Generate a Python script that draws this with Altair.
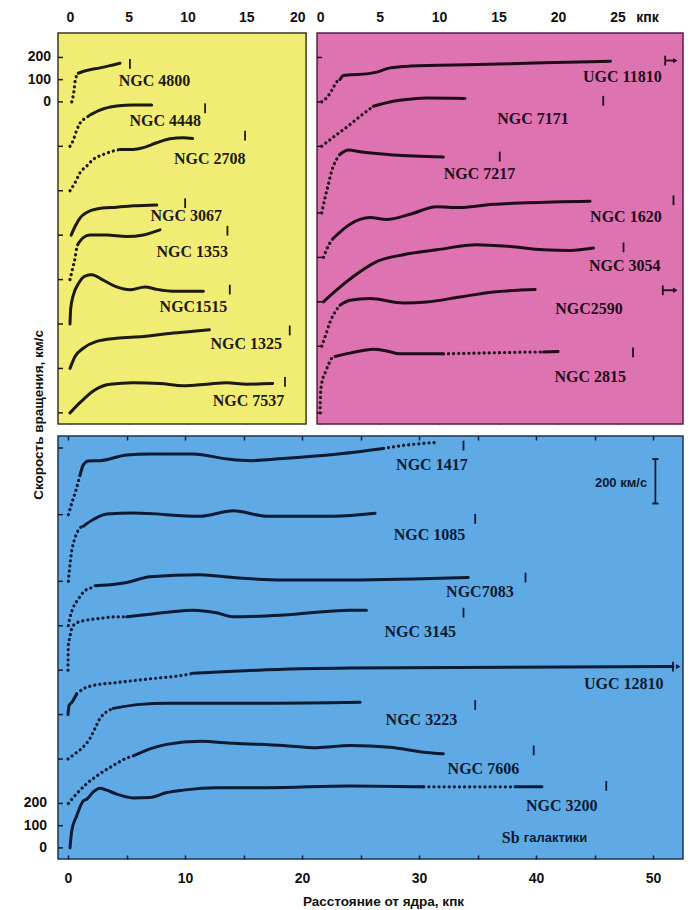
import altair as alt
import pandas as pd

FONT_SANS = "Liberation Sans"
FONT_SERIF = "Liberation Serif"

# ---------------- YELLOW PANEL (radius kpc, velocity km/s; style per interval: d=dotted, s=solid)
Y_NAMES = ["NGC 4800", "NGC 4448", "NGC 2708", "NGC 3067", "NGC 1353", "NGC1515", "NGC 1325", "NGC 7537"]
Y_OFFSETS = [1400, 1200, 1000, 800, 600, 400, 200, 0]

N4800_R = [0.15, 0.34, 0.43, 0.57, 0.70, 1.40, 2.55, 3.40, 4.26]
N4800_V = [0, 50, 90, 118, 129, 141, 153, 163, 174]
N4800_S = "ddddssss"
N4448_R = [0.00, 0.28, 0.57, 0.85, 1.42, 1.70, 2.55, 3.97, 5.40, 6.95]
N4448_V = [0, 28, 73, 104, 130, 141, 163, 181, 186, 186]
N4448_S = "dddddssss"
N2708_R = [0.00, 0.43, 0.85, 1.42, 1.98, 2.83, 3.69, 4.26, 5.39, 6.24, 7.38, 8.50, 9.64, 10.44]
N2708_V = [0, 36, 81, 111, 141, 163, 179, 186, 186, 194, 216, 234, 239, 235]
N2708_S = "dddddddssssss"
N3067_R = [0.10, 0.43, 0.85, 1.42, 2.27, 3.97, 5.39, 7.38]
N3067_V = [0, 39, 77, 102, 118, 126, 132, 136]
N3067_S = "sssssss"
N1353_R = [0.00, 0.23, 0.43, 0.57, 0.71, 1.13, 1.70, 3.12, 4.83, 6.24, 7.66]
N1353_V = [0, 51, 96, 141, 163, 189, 201, 201, 194, 201, 224]
N1353_S = "ddddssssss"
N1515_R = [0.00, 0.06, 0.28, 0.71, 1.28, 1.85, 2.84, 3.97, 5.10, 6.38, 7.38, 9.08, 11.35]
N1515_V = [0, 69, 129, 181, 216, 222, 197, 167, 154, 167, 156, 147, 147]
N1515_S = "ssssssssssss"
N1325_R = [0.00, 0.43, 1.13, 2.27, 3.97, 6.24, 8.23, 10.50, 11.86]
N1325_V = [0, 54, 91, 122, 136, 144, 156, 167, 174]
N1325_S = "ssssssss"
N7537_R = [0.00, 0.85, 1.98, 3.40, 5.39, 7.66, 9.64, 11.63, 13.34, 15.04, 17.25]
N7537_V = [0, 46, 99, 129, 136, 132, 122, 129, 136, 129, 132]
N7537_S = "ssssssssss"

Y_LAB_R = [7.2, 8.1, 11.9, 9.9, 10.4, 10.5, 15.0, 15.2]
Y_LAB_V = [95, 112, 145, 88, 126, 77, 108, 54]
Y_END_R = [5.1, 11.5, 14.9, 9.8, 13.4, 13.6, 18.7, 18.3]
Y_END_V = [171, 171, 248, 144, 220, 155, 171, 140]
Y_YTICKS = [0, 200, 400, 600, 800, 1000, 1200, 1400, 1500, 1600]
Y_YLABEL_POS = [1400, 1500, 1600]
Y_YLABELS = ["0", "100", "200"]

# ---------------- PINK PANEL
P_NAMES = ["UGC 11810", "NGC 7171", "NGC 7217", "NGC 1620", "NGC 3054", "NGC2590", "NGC 2815"]
P_OFFSETS = [1400, 1200, 900, 700, 500, 300, 0]

U11810_R = [0.14, 0.70, 0.98, 1.40, 1.68, 1.96, 2.52, 3.92, 4.76, 5.88, 7.56, 13.17, 18.76, 24.40]
U11810_V = [0, 28, 51, 90, 101, 119, 122, 126, 134, 153, 161, 168, 176, 183]
U11810_S = "ddddsssssssss"
N7171_R = [0.14, 1.40, 2.52, 3.36, 4.20, 4.48, 6.16, 7.56, 8.97, 12.18]
N7171_V = [0, 53, 98, 135, 169, 180, 203, 212, 217, 215]
N7171_S = "dddddssss"
N7217_R = [0.14, 0.42, 0.70, 0.98, 1.40, 1.68, 2.38, 3.36, 6.16, 10.36]
N7217_V = [0, 69, 129, 189, 242, 264, 283, 275, 261, 252]
N7217_S = "dddddssss"
N1620_R = [0.28, 0.56, 0.84, 1.10, 2.52, 4.20, 5.60, 7.56, 9.80, 11.76, 14.56, 17.37, 22.69]
N1620_V = [0, 36, 66, 85, 149, 179, 171, 194, 228, 224, 239, 246, 253]
N1620_S = "dddsssssssss"
N3054_R = [0.28, 1.40, 2.80, 4.76, 7.00, 9.80, 13.17, 15.97, 18.76, 21.00, 22.97]
N3054_V = [0, 54, 114, 181, 212, 234, 257, 249, 234, 231, 242]
N3054_S = "ssssssssss"
N2590_R = [0.14, 0.56, 0.84, 1.26, 1.68, 2.52, 4.20, 7.00, 8.97, 11.76, 14.56, 18.07]
N2590_V = [0, 64, 109, 154, 185, 207, 215, 195, 199, 222, 244, 255]
N2590_S = "ddddsssssss"
N2815_R = [0.00, 0.03, 0.14, 0.42, 0.70, 0.98, 1.26, 2.52, 4.48, 5.60, 6.72, 9.80, 10.36, 14.00, 18.20, 18.76, 20.00]
N2815_V = [0, 73, 133, 179, 216, 246, 254, 269, 287, 279, 266, 266, 266, 270, 274, 274, 276]
N2815_S = "ddddddssssssddds"

P_LAB_R = [25.4, 17.9, 13.4, 25.7, 25.6, 22.6, 22.7]
P_LAB_V = [112, 121, 175, 180, 159, 166, 163]
P_END_R = [29.0, 23.8, 15.1, 29.7, 25.5, 28.8, 26.3]
P_END_V = [186, 205, 254, 257, 245, 252, 272]
P_ARROW_R = [29.0, 28.8]
P_ARROW_R2 = [29.85, 29.85]
P_ARROW_V = [1400 + 186, 300 + 252]
P_YTICKS = [0, 300, 500, 700, 900, 1200, 1400, 1600]

# ---------------- BLUE PANEL
B_NAMES = ["NGC 1417", "NGC 1085", "NGC7083", "NGC 3145", "UGC 12810", "NGC 3223", "NGC 7606", "NGC 3200"]
B_OFFSETS = [1500, 1200, 1000, 800, 600, 400, 200, 0]

N1417_R = [0.03, 0.32, 0.60, 0.88, 1.03, 1.31, 1.74, 2.74, 5.02, 7.00, 10.70, 13.56, 15.56, 18.40, 22.70, 26.95, 29.23, 31.50]
N1417_V = [0, 51, 96, 149, 179, 224, 242, 243, 269, 273, 273, 251, 243, 253, 271, 298, 315, 325]
N1417_S = "ddddsssssssssssdd"
N1085_R = [0.03, 0.17, 0.32, 0.60, 1.03, 1.31, 2.16, 3.31, 5.58, 11.28, 14.13, 16.98, 22.68, 26.24]
N1085_V = [0, 75, 135, 195, 240, 248, 278, 303, 307, 293, 318, 293, 293, 306]
N1085_S = "ddddds" + "sssssss"
N7083_R = [0.03, 0.17, 0.45, 0.88, 1.45, 2.03, 2.31, 4.16, 5.02, 7.00, 11.28, 14.13, 18.40, 24.10, 34.20]
N7083_V = [0, 37, 82, 120, 158, 172, 180, 188, 195, 221, 230, 217, 206, 206, 217]
N7083_S = "ddddddssssssss"
N3145_R = [0.00, 0.01, 0.03, 0.17, 0.32, 0.74, 1.60, 2.74, 4.16, 5.02, 7.00, 8.70, 10.70, 12.70, 14.13, 18.40, 24.10, 25.50]
N3145_V = [0, 68, 113, 150, 188, 213, 225, 233, 240, 240, 252, 262, 270, 258, 240, 248, 270, 270]
N3145_S = "dddddddddssssssss"
U12810_R = [0.00, 0.09, 0.32, 0.74, 1.31, 2.16, 4.16, 7.00, 10.15, 10.70, 14.13, 19.83, 24.10, 51.70]
U12810_V = [0, 41, 55, 93, 116, 131, 144, 161, 180, 186, 195, 206, 210, 216]
U12810_S = "sssddddddssss"
N3223_R = [0.00, 0.45, 1.31, 1.88, 2.31, 2.74, 3.31, 3.87, 6.15, 8.44, 17.00, 24.96]
N3223_V = [0, 18, 55, 93, 138, 183, 213, 228, 246, 251, 251, 255]
N3223_S = "dddddddssss"
N7606_R = [0.03, 0.74, 1.60, 2.74, 3.87, 4.87, 5.58, 7.00, 8.44, 11.28, 14.13, 18.40, 21.26, 24.10, 27.52, 30.37, 32.08]
N7606_V = [0, 44, 89, 134, 171, 201, 214, 246, 266, 280, 271, 261, 251, 261, 253, 231, 224]
N7606_S = "ddddddssssssssss"
N3200_R = [0.17, 0.32, 0.74, 1.31, 1.60, 2.16, 2.74, 3.25, 4.16, 5.58, 7.00, 8.44, 9.85, 12.70, 17.00, 24.10, 30.40, 34.00, 38.20, 40.50]
N3200_V = [0, 77, 144, 212, 219, 252, 269, 261, 242, 225, 227, 249, 260, 271, 271, 279, 275, 275, 275, 275]
N3200_S = "ssssssssssssssssdds"

B_LAB_R = [31.1, 30.9, 35.2, 30.1, 47.5, 30.2, 35.5, 42.2]
B_LAB_V = [224, 210, 150, 173, 138, 176, 156, 189]
B_END_R = [33.8, 34.8, 39.1, 33.8, 51.7, 34.8, 39.8, 46.0]
B_END_V = [311, 281, 217, 259, 216, 243, 239, 279]
B_ARROW_R = [52.15]
B_ARROW_V = [600 + 216]
B_YTICKS = [0, 100, 200, 400, 600, 800, 1000, 1200, 1500, 1800]
B_YLABEL_POS = [0, 100, 200]
B_YLABELS = ["0", "100", "200"]
SCALEBAR_R = [50.2]
SCALEBAR_V = [1550, 1750]

Y_CURVES = [(N4800_R, N4800_V, N4800_S), (N4448_R, N4448_V, N4448_S), (N2708_R, N2708_V, N2708_S),
            (N3067_R, N3067_V, N3067_S), (N1353_R, N1353_V, N1353_S), (N1515_R, N1515_V, N1515_S),
            (N1325_R, N1325_V, N1325_S), (N7537_R, N7537_V, N7537_S)]
P_CURVES = [(U11810_R, U11810_V, U11810_S), (N7171_R, N7171_V, N7171_S), (N7217_R, N7217_V, N7217_S),
            (N1620_R, N1620_V, N1620_S), (N3054_R, N3054_V, N3054_S), (N2590_R, N2590_V, N2590_S),
            (N2815_R, N2815_V, N2815_S)]
B_CURVES = [(N1417_R, N1417_V, N1417_S), (N1085_R, N1085_V, N1085_S), (N7083_R, N7083_V, N7083_S),
            (N3145_R, N3145_V, N3145_S), (U12810_R, U12810_V, U12810_S), (N3223_R, N3223_V, N3223_S),
            (N7606_R, N7606_V, N7606_S), (N3200_R, N3200_V, N3200_S)]

# ---------------- scale domains (panel frames)
YX_DOM = [-1.02, 52.17]     # yellow x-scale over the whole top row width
YX_PANEL = [-1.02, 20.09]   # yellow panel extent
PX_DOM = [-22.02, 30.5]     # pink x-scale over the whole top row width
PX_PANEL = [-0.25, 30.5]    # pink panel extent
TOP_Y_DOM = [-50, 1710]
BX_DOM = [-0.855, 52.56]
B_Y_DOM = [-50, 1854]


def curves_df(names, offsets, curves):
    rows = []
    for name, off, (R, V, S) in zip(names, offsets, curves):
        seg = 0
        for i, st in enumerate(S):
            if i == 0 or st != S[i - 1]:
                seg += 1
                rows.append({"seg": f"{name}#{seg}", "style": st, "r": R[i], "Y": V[i] + off})
            rows.append({"seg": f"{name}#{seg}", "style": st, "r": R[i + 1], "Y": V[i + 1] + off})
    return pd.DataFrame(rows)


def ends_df(offsets, er, ev, half=22):
    return pd.DataFrame({"r": er, "Y1": [v + o - half for v, o in zip(ev, offsets)],
                         "Y2": [v + o + half for v, o in zip(ev, offsets)]})


def labels_df(names, offsets, lr, lv):
    return pd.DataFrame({"r": lr, "Y": [v + o for v, o in zip(lv, offsets)], "name": names})


def axis_common(ink):
    return dict(domain=False, grid=False, tickColor=ink, tickWidth=1.5, labelFont=FONT_SANS,
                labelFontSize=14, labelFontWeight="bold", labelColor="#111111", labelOverlap=False)


def sc(dom):
    return alt.Scale(domain=dom, nice=False, zero=False)


def curve_layers(cdf, edf, ldf, xs, ys, ink, x_main, x_ticks):
    base = alt.Chart(cdf)
    solid = base.transform_filter("datum.style == 's'").mark_line(
        color=ink, strokeWidth=3, interpolate="monotone", strokeCap="round", strokeJoin="round"
    ).encode(x=alt.X("r:Q", scale=xs, axis=x_main), y=alt.Y("Y:Q", scale=ys, axis=None), detail="seg:N")
    dotted = base.transform_filter("datum.style == 'd'").mark_line(
        color=ink, strokeWidth=3.2, strokeDash=[0.1, 5], strokeCap="round", interpolate="monotone"
    ).encode(x=alt.X("r:Q", scale=xs, axis=None), y=alt.Y("Y:Q", scale=ys, axis=None), detail="seg:N")
    ends = alt.Chart(edf).mark_rule(color=ink, strokeWidth=1.8).encode(
        x=alt.X("r:Q", scale=xs, axis=x_ticks), y=alt.Y("Y1:Q", scale=ys, axis=None), y2="Y2:Q")
    labels = alt.Chart(ldf).mark_text(
        font=FONT_SERIF, fontSize=16, fontWeight="bold", color=ink, align="center", baseline="middle"
    ).encode(x=alt.X("r:Q", scale=xs, axis=None), y=alt.Y("Y:Q", scale=ys, axis=None), text="name:N")
    return [solid, dotted, ends, labels]


def frame_rect(xpanel, ydom, xs, ys, fill, border):
    df = pd.DataFrame({"r0": [xpanel[0]], "r1": [xpanel[1]], "Y0": [ydom[0]], "Y1": [ydom[1]]})
    return alt.Chart(df).mark_rect(fill=fill, stroke=border, strokeWidth=1.5).encode(
        x=alt.X("r0:Q", scale=xs, axis=None), x2="r1:Q", y=alt.Y("Y0:Q", scale=ys, axis=None), y2="Y1:Q")


def y_ticks(left, kpc_len, values, xs, ys, ink):
    df = pd.DataFrame({"r0": [left] * len(values), "r1": [left + kpc_len] * len(values), "Y": values})
    return alt.Chart(df).mark_rule(color=ink, strokeWidth=1.5).encode(
        x=alt.X("r0:Q", scale=xs, axis=None), x2="r1:Q", y=alt.Y("Y:Q", scale=ys, axis=None))


def y_labels(left, pos, texts, dx, xs, ys):
    df = pd.DataFrame({"r0": [left] * len(pos), "Y": pos, "t": texts})
    return alt.Chart(df).mark_text(font=FONT_SANS, fontSize=14, fontWeight="bold", color="#111111",
                                   align="right", baseline="middle", dx=dx).encode(
        x=alt.X("r0:Q", scale=xs, axis=None), y=alt.Y("Y:Q", scale=ys, axis=None), text="t:N")


# ================= TOP ROW (yellow + pink in one layered chart, independent x scales)
YINK = "#1c1a12"
PINK_INK = "#1e0d18"
xs_y = sc(YX_DOM)
xs_p = sc(PX_DOM)
ys_t = sc(TOP_Y_DOM)

y_main = alt.Axis(orient="top", values=[0, 5, 10, 15, 20], offset=-4, tickSize=4, labelPadding=9,
                  labelAlign={"condition": {"test": "datum.value == 20", "value": "right"}, "value": "center"},
                  title=None, **axis_common(YINK))
y_tick = alt.Axis(orient="bottom", values=[0, 5, 10, 15], offset=-4, tickSize=4, labels=False,
                  title=None, **axis_common(YINK))
p_main = alt.Axis(orient="top", values=[0, 5, 10, 15, 20, 25, 30], offset=-4, tickSize=4, labelPadding=9,
                  labelExpr="datum.value == 30 ? '' : datum.label",
                  title="кпк", titleX=589, titleY=-13, titleAngle=0, titleAlign="center", titleBaseline="bottom",
                  titleFont=FONT_SANS, titleFontSize=14, titleFontWeight="bold", titleColor="#111111",
                  **axis_common(PINK_INK))
p_tick = alt.Axis(orient="bottom", values=[0, 5, 10, 15, 20, 25], offset=-4, tickSize=4, labels=False,
                  title=None, **axis_common(PINK_INK))

p_arrows = pd.DataFrame({"r": P_ARROW_R, "r2": P_ARROW_R2, "Y": P_ARROW_V})
p_arrow_line = alt.Chart(p_arrows).mark_rule(color=PINK_INK, strokeWidth=1.8).encode(
    x=alt.X("r:Q", scale=xs_p, axis=None), x2="r2:Q", y=alt.Y("Y:Q", scale=ys_t, axis=None))
p_arrow_head = alt.Chart(p_arrows).mark_point(shape="triangle-right", filled=True, size=28, opacity=1,
                                              color=PINK_INK).encode(
    x=alt.X("r2:Q", scale=xs_p, axis=None), y=alt.Y("Y:Q", scale=ys_t, axis=None))

vtitle = alt.Chart(pd.DataFrame({"Y": [-9], "t": ["Скорость вращения, км/с"]})).mark_text(
    font=FONT_SANS, fontSize=13.5, fontWeight="bold", color="#111111", angle=270,
    align="center", baseline="middle").encode(
    x=alt.value(-19), y=alt.Y("Y:Q", scale=ys_t, axis=None), text="t:N")

top_layers = (
    [frame_rect(YX_PANEL, TOP_Y_DOM, xs_y, ys_t, "#f1ed74", "#3a3820"),
     frame_rect(PX_PANEL, TOP_Y_DOM, xs_p, ys_t, "#de73b2", "#5a1d45")]
    + curve_layers(curves_df(Y_NAMES, Y_OFFSETS, Y_CURVES), ends_df(Y_OFFSETS, Y_END_R, Y_END_V),
                   labels_df(Y_NAMES, Y_OFFSETS, Y_LAB_R, Y_LAB_V), xs_y, ys_t, YINK, y_main, y_tick)
    + curve_layers(curves_df(P_NAMES, P_OFFSETS, P_CURVES), ends_df(P_OFFSETS, P_END_R, P_END_V),
                   labels_df(P_NAMES, P_OFFSETS, P_LAB_R, P_LAB_V), xs_p, ys_t, PINK_INK, p_main, p_tick)
    + [p_arrow_line, p_arrow_head,
       y_ticks(YX_PANEL[0], 5 / 11.75, Y_YTICKS, xs_y, ys_t, YINK),
       y_ticks(PX_PANEL[0], 5 / 11.9, P_YTICKS, xs_p, ys_t, PINK_INK),
       y_labels(YX_PANEL[0], Y_YLABEL_POS, Y_YLABELS, -7, xs_y, ys_t),
       vtitle]
)
top = alt.layer(*top_layers).resolve_scale(x="independent").properties(
    width=625, height=391, view=alt.ViewBackground(fill="white", stroke="transparent"))

# ================= BLUE PANEL
BINK = "#0d1a33"
xs_b = sc(BX_DOM)
ys_b = sc(B_Y_DOM)
b_main = alt.Axis(orient="bottom", values=list(range(0, 55, 5)), offset=-4, tickSize=4, labelPadding=12,
                  labelExpr="datum.value % 10 == 0 ? datum.label : ''",
                  title="Расстояние от ядра, кпк", titleX=325, titleY=46, titleAlign="center",
                  titleBaseline="middle", titleFont=FONT_SANS, titleFontSize=13.5, titleFontWeight="bold",
                  titleColor="#111111", **axis_common(BINK))
b_tick = alt.Axis(orient="top", values=list(range(0, 55, 5)), offset=-4, tickSize=4, labels=False,
                  title=None, **axis_common(BINK))

b_arrow = alt.Chart(pd.DataFrame({"r": B_ARROW_R, "Y": B_ARROW_V})).mark_point(
    shape="triangle-right", filled=True, size=28, opacity=1, color=BINK).encode(
    x=alt.X("r:Q", scale=xs_b, axis=None), y=alt.Y("Y:Q", scale=ys_b, axis=None))
b_bar = alt.Chart(pd.DataFrame({"r": SCALEBAR_R, "Y1": [SCALEBAR_V[0]], "Y2": [SCALEBAR_V[1]]})).mark_rule(
    color=BINK, strokeWidth=1.8).encode(
    x=alt.X("r:Q", scale=xs_b, axis=None), y=alt.Y("Y1:Q", scale=ys_b, axis=None), y2="Y2:Q")
b_caps = alt.Chart(pd.DataFrame({"r": [SCALEBAR_R[0] - 0.27] * 2, "r2": [SCALEBAR_R[0] + 0.27] * 2,
                                 "Y": SCALEBAR_V})).mark_rule(color=BINK, strokeWidth=1.8).encode(
    x=alt.X("r:Q", scale=xs_b, axis=None), x2="r2:Q", y=alt.Y("Y:Q", scale=ys_b, axis=None))
b_bartext = alt.Chart(pd.DataFrame({"r": [49.5], "Y": [1643], "t": ["200 км/с"]})).mark_text(
    font=FONT_SANS, fontSize=13, fontWeight="bold", color=BINK, align="right", baseline="middle").encode(
    x=alt.X("r:Q", scale=xs_b, axis=None), y=alt.Y("Y:Q", scale=ys_b, axis=None), text="t:N")
b_sb1 = alt.Chart(pd.DataFrame({"r": [38.6], "Y": [45], "t": ["Sb"]})).mark_text(
    font=FONT_SERIF, fontSize=16, fontWeight="bold", color=BINK, align="right", baseline="middle").encode(
    x=alt.X("r:Q", scale=xs_b, axis=None), y=alt.Y("Y:Q", scale=ys_b, axis=None), text="t:N")
b_sb2 = alt.Chart(pd.DataFrame({"r": [38.95], "Y": [45], "t": ["галактики"]})).mark_text(
    font=FONT_SANS, fontSize=13, fontWeight="bold", color=BINK, align="left", baseline="middle").encode(
    x=alt.X("r:Q", scale=xs_b, axis=None), y=alt.Y("Y:Q", scale=ys_b, axis=None), text="t:N")

blue_layers = (
    curve_layers(curves_df(B_NAMES, B_OFFSETS, B_CURVES), ends_df(B_OFFSETS, B_END_R, B_END_V),
                 labels_df(B_NAMES, B_OFFSETS, B_LAB_R, B_LAB_V), xs_b, ys_b, BINK, b_main, b_tick)
    + [b_arrow, b_bar, b_caps, b_bartext, b_sb1, b_sb2,
       y_ticks(BX_DOM[0], 5 / 11.7, B_YTICKS, xs_b, ys_b, BINK),
       y_labels(BX_DOM[0], B_YLABEL_POS, B_YLABELS, -11, xs_b, ys_b)]
)
blue = alt.layer(*blue_layers).resolve_axis(x="independent").properties(
    width=625, height=423, view=alt.ViewBackground(fill="#5faae4", stroke="#16365f", strokeWidth=1.5))

chart = alt.vconcat(top, blue, spacing=12, bounds="flush").properties(
    padding={"left": 22, "top": 9, "right": 4, "bottom": 4}
).configure(background="white")

chart.save("out.html", embed_options={"renderer": "svg", "actions": False})
